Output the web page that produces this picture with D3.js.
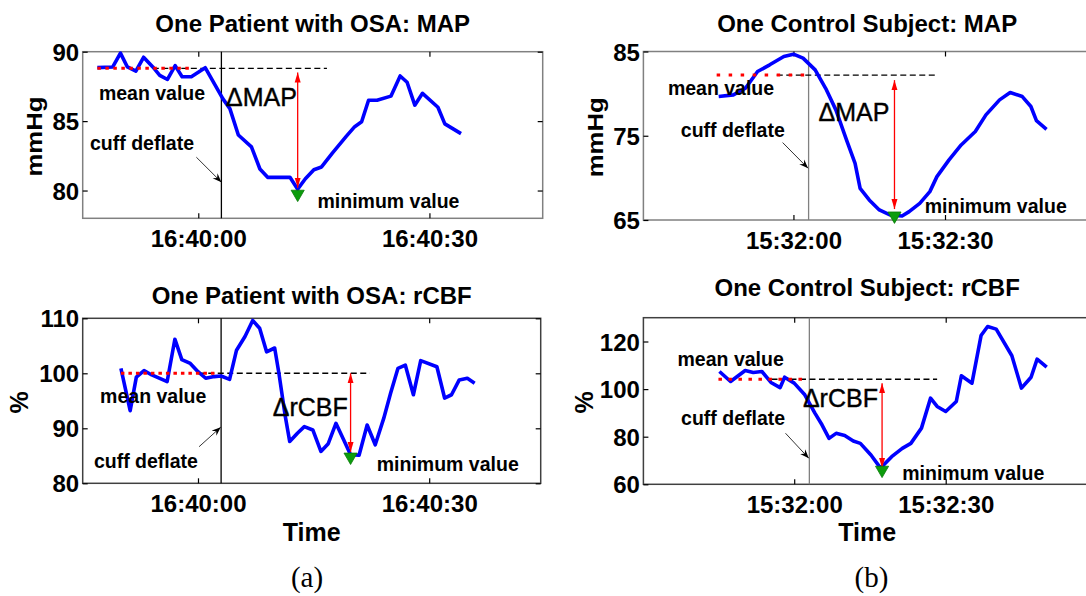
<!DOCTYPE html>
<html>
<head>
<meta charset="utf-8">
<script src="https://cdn.jsdelivr.net/npm/d3@7"></script>
<style>
  body { margin: 0; background: #fff; }
  text { font-family: "Liberation Sans", Arial, sans-serif; }
</style>
</head>
<body>
<script>
var width = 1086,
  height = 596;

// seconds relative to the first tick label
var tickSeconds = [0, 30];
var osaTickLabels = ["16:40:00", "16:40:30"];
var ctlTickLabels = ["15:32:00", "15:32:30"];

var osaMapTicks = [80, 85, 90];
var ctlMapTicks = [65, 75, 85];
var osaCbfTicks = [80, 90, 100, 110];
var ctlCbfTicks = [60, 80, 100, 120];

var osaMapT = [-13.1, -11.1, -10.1, -9.2, -8.1, -7.1, -5.9, -5.0, -4.0, -3.0, -2.1, -0.9, 0.9, 3.2, 4.1, 5.2, 6.9, 8.0, 9.0, 11.9, 12.9, 13.9, 15.0, 16.0, 17.4, 19.2, 20.3, 21.2, 22.1, 23.2, 25.0, 26.2, 27.1, 28.1, 29.1, 31.1, 32.0, 34.1];
var osaMapV = [88.85, 88.9, 89.9, 88.9, 88.6, 89.6, 88.9, 88.3, 88.0, 89.0, 88.2, 88.2, 88.85, 86.6, 85.9, 84.0, 83.15, 81.55, 80.95, 80.95, 80.1, 80.85, 81.5, 81.7, 82.7, 83.9, 84.6, 84.95, 86.5, 86.5, 86.8, 88.25, 87.8, 86.15, 87.0, 86.0, 84.8, 84.1];

var ctlMapT = [-14.8, -11.9, -9.5, -7.1, -4.7, -1.9, 0, 1.9, 4.3, 6.4, 8.4, 10.5, 12.2, 13.2, 15.0, 17.0, 19.1, 21.5, 22.9, 25.0, 27.0, 28.4, 30.8, 33.2, 36.0, 38.1, 40.8, 42.9, 45.3, 47.0, 48.1, 50.1];
var ctlMapV = [79.65, 79.85, 80.64, 82.62, 83.42, 84.41, 84.68, 84.21, 82.82, 80.6, 78.07, 74.5, 71.73, 68.76, 67.38, 66.19, 65.6, 65.48, 65.99, 66.98, 68.37, 70.15, 72.13, 73.91, 75.5, 77.48, 79.26, 80.13, 79.65, 78.47, 76.8, 75.77];

var osaCbfT = [-10.0, -8.8, -8.0, -7.0, -6.0, -4.0, -3.0, -2.1, -1.0, 0.0, 1.0, 2.1, 3.0, 4.1, 5.0, 6.1, 7.1, 8.0, 8.9, 9.95, 10.5, 11.3, 11.9, 12.9, 13.8, 14.9, 15.95, 16.9, 17.9, 18.9, 19.8, 20.9, 21.95, 23.0, 24.1, 25.0, 25.95, 26.9, 27.95, 28.9, 31.0, 32.0, 32.9, 33.9, 34.95, 35.9];
var osaCbfV = [100.9, 93.2, 99.3, 100.5, 99.7, 98.5, 106.2, 102.5, 101.8, 100.3, 99.1, 99.4, 99.5, 98.9, 104.2, 106.7, 109.6, 108.2, 103.9, 104.6, 100.0, 92.4, 87.6, 89.1, 90.3, 89.7, 85.8, 87.2, 90.9, 87.9, 85.2, 85.1, 90.6, 87.0, 91.8, 96.4, 100.9, 101.5, 96.1, 102.3, 101.2, 95.5, 96.1, 98.8, 99.1, 98.2];

var ctlCbfT = [-14.8, -12.6, -9.7, -8.1, -6.4, -4.6, -2.8, -1.9, 0, 2.1, 4.1, 5.5, 6.9, 8.3, 10.0, 11.7, 13.1, 15.2, 17.1, 19.3, 21.4, 23.1, 25.2, 27.0, 28.3, 30.0, 32.1, 33.1, 35.2, 37.0, 38.3, 40.0, 43.1, 45.0, 46.9, 48.1, 50.0];
var ctlCbfV = [107.4, 103.2, 107.8, 107.0, 107.4, 102.8, 100.6, 105.0, 102.5, 97.6, 89.9, 85.0, 79.3, 81.4, 80.5, 78.2, 77.2, 72.3, 66.8, 71.6, 75.1, 77.2, 83.6, 96.2, 92.7, 90.6, 94.8, 105.6, 102.5, 122.5, 126.3, 125.2, 114.0, 100.4, 105.0, 112.6, 109.2];

var osaMapMean = 88.8, ctlMapMean = 82.2, osaCbfMean = 100.0, ctlCbfMean = 104.15;

var panels = [
  {
    title: "One Patient with OSA: MAP", delta: "\u0394MAP", ylabel: "mmHg",
    t: osaMapT, v: osaMapV, yTicks: osaMapTicks, xLabels: osaTickLabels, mean: osaMapMean,
    box: [82.7, 51.7, 542.7, 218.3], xDomain: [-15, 44.7], yDomain: [78, 90],
    boxColor: "#808080", cuffColor: "#000", titleY: 32.3, ylabelX: 34.5, ylabelLen: 80,
    meanDot: [-13.1, -0.7], meanDash: [-5.9, 16.7], dotGap: "3.5,4.5",
    minT: 12.9, arrowV: [88.5, 80.2], triV: 79.75,
    meanText: [-12.9, 86.5], deltaText: [3.6, 86.07], cuffText: [-14.05, 82.9],
    cuffArrow: [[-0.25, 82.4], [3.0, 80.6]], minText: [15.47, 78.75]
  },
  {
    title: "One Control Subject: MAP", delta: "\u0394MAP", ylabel: "mmHg",
    t: ctlMapT, v: ctlMapV, yTicks: ctlMapTicks, xLabels: ctlTickLabels, mean: ctlMapMean,
    box: [643.4, 51.5, 1091, 220], xDomain: [-29.7, 58.9], yDomain: [65, 85],
    boxColor: "#808080", cuffColor: "#808080", titleY: 31.7, ylabelX: 595, ylabelLen: 80,
    meanDot: [-15.2, 2.6], meanDash: [-3.3, 28.4], dotGap: "3.5,8.5",
    minT: 20.0, arrowV: [81.6, 66.3], triV: 65.5,
    meanText: [-24.85, 79.85], deltaText: [4.97, 76.7], cuffText: [-22.3, 74.9],
    cuffArrow: [[-2.14, 74.19], [2.9, 71.14]], minText: [26.0, 65.8]
  },
  {
    title: "One Patient with OSA: rCBF", delta: "\u0394rCBF", ylabel: "%",
    t: osaCbfT, v: osaCbfV, yTicks: osaCbfTicks, xLabels: osaTickLabels, mean: osaCbfMean,
    box: [82.7, 318.3, 540.7, 483.3], xDomain: [-14.96, 44.47], yDomain: [80, 110],
    boxColor: "#404040", cuffColor: "#000", titleY: 304.3, ylabelX: 19, ylabelLen: 0,
    meanDot: [-10.0, 2.3], meanDash: [0.1, 22.3], dotGap: "3.5,4",
    minT: 19.8, arrowV: [100, 85.7], triV: 84.8,
    meanText: [-12.7, 94.55], deltaText: [9.7, 92.3], cuffText: [-13.5, 82.7],
    cuffArrow: [[0.14, 86.65], [2.95, 90.2]], minText: [23.2, 82.3],
    xlabel: "Time", caption: "(a)", captionX: 307
  },
  {
    title: "One Control Subject: rCBF", delta: "\u0394rCBF", ylabel: "%",
    t: ctlCbfT, v: ctlCbfV, yTicks: ctlCbfTicks, xLabels: ctlTickLabels, mean: ctlCbfMean,
    box: [643.4, 317.7, 1091, 484.3], xDomain: [-29.86, 58.77], yDomain: [60, 130],
    boxColor: "#404040", cuffColor: "#808080", titleY: 296, ylabelX: 583.5, ylabelLen: 0,
    meanDot: [-15.0, 2.4], meanDash: [-4.5, 28.3], dotGap: "3.5,6.5",
    minT: 17.4, arrowV: [102.5, 66.8], triV: 66.0,
    meanText: [-23.1, 109.5], deltaText: [1.72, 92.65], cuffText: [-22.4, 84.8],
    cuffArrow: [[-1.72, 81.45], [2.89, 70.94]], minText: [21.4, 61.8],
    xlabel: "Time", caption: "(b)", captionX: 871.5
  }
];

var svg = d3.select("body")
  .append("svg")
  .attr("width", width)
  .attr("height", height);

var defs = svg.append("defs");

defs.append("marker")
  .attr("id", "redHead")
  .attr("markerUnits", "userSpaceOnUse")
  .attr("viewBox", "-10 -4 11 8")
  .attr("markerWidth", 11).attr("markerHeight", 8)
  .attr("refX", 0).attr("refY", 0)
  .attr("orient", "auto-start-reverse")
  .append("path")
  .attr("d", "M0,0 L-10,-3 L-10,3 Z")
  .attr("fill", "#ff0000");

defs.append("marker")
  .attr("id", "blackHead")
  .attr("markerUnits", "userSpaceOnUse")
  .attr("viewBox", "-9 -4 10 8")
  .attr("markerWidth", 10).attr("markerHeight", 8)
  .attr("refX", 0).attr("refY", 0)
  .attr("orient", "auto")
  .append("path")
  .attr("d", "M0,0 L-9,-3.5 L-6,0 L-9,3.5 Z")
  .attr("fill", "#000");

panels.forEach(function (p) {
  var x = d3.scaleLinear().domain(p.xDomain).range([p.box[0], p.box[2]]);
  var y = d3.scaleLinear().domain(p.yDomain).range([p.box[3], p.box[1]]);
  var g = svg.append("g");
  var midX = (p.box[0] + p.box[2]) / 2;

  g.append("rect")
    .attr("x", p.box[0]).attr("y", p.box[1])
    .attr("width", p.box[2] - p.box[0])
    .attr("height", p.box[3] - p.box[1])
    .attr("fill", "none")
    .attr("stroke", p.boxColor)
    .attr("stroke-width", 1.5);

  // inward ticks on all four sides
  var bottom = g.append("g")
    .attr("transform", "translate(0," + p.box[3] + ")")
    .call(d3.axisBottom(x).tickValues(tickSeconds)
      .tickFormat(function (d, i) { return p.xLabels[i]; })
      .tickSize(-5).tickPadding(11.5));
  var top = g.append("g")
    .attr("transform", "translate(0," + p.box[1] + ")")
    .call(d3.axisTop(x).tickValues(tickSeconds).tickFormat("").tickSize(-5));
  var left = g.append("g")
    .attr("transform", "translate(" + p.box[0] + ",0)")
    .call(d3.axisLeft(y).tickValues(p.yTicks).tickSize(-5).tickPadding(3.5));
  var right = g.append("g")
    .attr("transform", "translate(" + p.box[2] + ",0)")
    .call(d3.axisRight(y).tickValues(p.yTicks).tickFormat("").tickSize(-5));

  [bottom, top, left, right].forEach(function (a) {
    a.select(".domain").remove();
    a.selectAll(".tick line").attr("stroke", "#000").attr("stroke-width", 1.2);
    a.selectAll("text")
      .style("font-family", "'Liberation Sans', Arial, sans-serif")
      .style("font-size", "24px")
      .style("font-weight", "bold")
      .attr("fill", "#000");
  });
  left.selectAll("text").attr("dy", "0.36em");

  // cuff deflate marker
  g.append("line")
    .attr("x1", x(3)).attr("x2", x(3))
    .attr("y1", p.box[1]).attr("y2", p.box[3])
    .attr("stroke", p.cuffColor)
    .attr("stroke-width", 1.3);

  // baseline mean
  g.append("line")
    .attr("x1", x(p.meanDash[0])).attr("x2", x(p.meanDash[1]))
    .attr("y1", y(p.mean)).attr("y2", y(p.mean))
    .attr("stroke", "#000")
    .attr("stroke-width", 1.4)
    .attr("stroke-dasharray", "6,3.5");

  var line = d3.line()
    .x(function (d, i) { return x(p.t[i]); })
    .y(function (d) { return y(d); });

  g.append("path")
    .attr("d", line(p.v))
    .attr("fill", "none")
    .attr("stroke", "#0000ff")
    .attr("stroke-width", 3.6)
    .attr("stroke-linejoin", "round");

  g.append("line")
    .attr("x1", x(p.meanDot[0])).attr("x2", x(p.meanDot[1]))
    .attr("y1", y(p.mean)).attr("y2", y(p.mean))
    .attr("stroke", "#ff0000")
    .attr("stroke-width", 3)
    .attr("stroke-dasharray", p.dotGap);

  // drop from mean to minimum
  g.append("line")
    .attr("x1", x(p.minT)).attr("x2", x(p.minT))
    .attr("y1", y(p.arrowV[0])).attr("y2", y(p.arrowV[1]))
    .attr("stroke", "#ff0000")
    .attr("stroke-width", 1.3)
    .attr("marker-start", "url(#redHead)")
    .attr("marker-end", "url(#redHead)");

  g.append("path")
    .attr("d", d3.symbol().type(d3.symbolTriangle).size(75)())
    .attr("transform", "translate(" + x(p.minT) + "," + y(p.triV) + ") rotate(180)")
    .attr("fill", "#0c9c0c")
    .attr("stroke", "#087a08")
    .attr("stroke-width", 0.8);

  g.append("line")
    .attr("x1", x(p.cuffArrow[0][0])).attr("y1", y(p.cuffArrow[0][1]))
    .attr("x2", x(p.cuffArrow[1][0])).attr("y2", y(p.cuffArrow[1][1]))
    .attr("stroke", "#000")
    .attr("stroke-width", 0.8)
    .attr("marker-end", "url(#blackHead)");

  var labels = [
    { pos: p.meanText, s: "mean value" },
    { pos: p.cuffText, s: "cuff deflate" },
    { pos: p.minText, s: "minimum value" }
  ];
  g.selectAll(".note")
    .data(labels)
    .enter().append("text")
    .attr("class", "note")
    .attr("x", function (d) { return x(d.pos[0]); })
    .attr("y", function (d) { return y(d.pos[1]); })
    .style("font-size", "19.5px")
    .style("font-weight", "bold")
    .text(function (d) { return d.s; });

  g.append("text")
    .attr("x", x(p.deltaText[0]))
    .attr("y", y(p.deltaText[1]))
    .style("font-size", "25px")
    .attr("stroke", "#000")
    .attr("stroke-width", 0.4)
    .text(p.delta);

  g.append("text")
    .attr("x", midX)
    .attr("y", p.titleY)
    .attr("text-anchor", "middle")
    .style("font-size", "24px")
    .style("font-weight", "bold")
    .text(p.title);

  var yl = g.append("text")
    .attr("transform", "translate(" + p.ylabelX + "," + ((p.box[1] + p.box[3]) / 2 + 1.5) + ") rotate(-90)")
    .attr("text-anchor", "middle")
    .attr("dominant-baseline", "central")
    .style("font-weight", "bold")
    .text(p.ylabel);
  if (p.ylabelLen) {
    yl.style("font-size", "22px")
      .attr("textLength", p.ylabelLen)
      .attr("lengthAdjust", "spacingAndGlyphs");
  } else {
    yl.style("font-size", "25px");
  }

  if (p.xlabel) {
    g.append("text")
      .attr("x", midX)
      .attr("y", 540.5)
      .attr("text-anchor", "middle")
      .style("font-size", "25px")
      .style("font-weight", "bold")
      .text(p.xlabel);
    g.append("text")
      .attr("x", p.captionX)
      .attr("y", 587)
      .attr("text-anchor", "middle")
      .style("font-family", "'Liberation Serif', 'Times New Roman', serif")
      .style("font-size", "29px")
      .text(p.caption);
  }
});
</script>
</body>
</html>
